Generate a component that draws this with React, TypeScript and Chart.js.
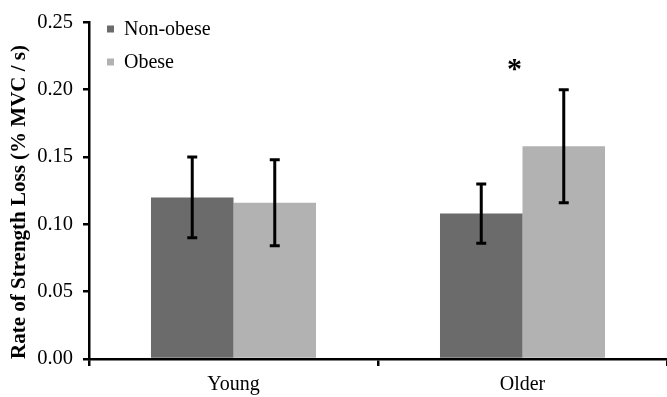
import React, { useEffect, useRef } from "react";
import { Chart, registerables } from "chart.js";

Chart.register(...registerables);

const categories = ["Young", "Older"];
const nonObese = [0.12, 0.108];
const obese = [0.116, 0.158];
const nonObeseErr = [0.03, 0.022];
const obeseErr = [0.032, 0.042];
const yTicks = [0, 0.05, 0.1, 0.15, 0.2, 0.25];
const seriesNames = ["Non-obese", "Obese"];
const yTitle = "Rate of Strength Loss (% MVC / s)";
const sigMark = "*";
const sigValue = 0.215;

const FONT = '"Liberation Serif", "Times New Roman", serif';
const DARK = "#6b6b6b";
const LIGHT = "#b2b2b2";

const errPlugin = {
  id: "errbars",
  afterDatasetsDraw(chart: any) {
    const ctx = chart.ctx;
    const ys = chart.scales.y;
    const errs = [nonObeseErr, obeseErr];
    ctx.save();
    ctx.strokeStyle = "#000";
    ctx.lineWidth = 3;
    chart.data.datasets.forEach((ds: any, di: number) => {
      const meta = chart.getDatasetMeta(di);
      meta.data.forEach((bar: any, i: number) => {
        const v = ds.data[i];
        const e = errs[di][i];
        const top = ys.getPixelForValue(v + e);
        const bot = ys.getPixelForValue(v - e);
        const x = bar.x;
        ctx.beginPath();
        ctx.moveTo(x, top);
        ctx.lineTo(x, bot);
        ctx.moveTo(x - 5, top);
        ctx.lineTo(x + 5, top);
        ctx.moveTo(x - 5, bot);
        ctx.lineTo(x + 5, bot);
        ctx.stroke();
      });
    });
    ctx.restore();
  },
  afterDraw(chart: any) {
    const ctx = chart.ctx;
    const ys = chart.scales.y;
    const xs = chart.scales.x;
    const ca = chart.chartArea;
    ctx.save();
    // y title
    ctx.fillStyle = "#000";
    ctx.font = `bold 21px ${FONT}`;
    ctx.textAlign = "center";
    ctx.textBaseline = "middle";
    ctx.translate(20, 202);
    ctx.rotate(-Math.PI / 2);
    ctx.fillText(yTitle, 0, 0);
    ctx.restore();

    // legend
    ctx.save();
    ctx.font = `20px ${FONT}`;
    ctx.textBaseline = "middle";
    ctx.textAlign = "left";
    const colors = [DARK, LIGHT];
    seriesNames.forEach((n, i) => {
      const y = 29 + i * 33;
      ctx.fillStyle = colors[i];
      ctx.fillRect(ca.left + 18, y - 3.5, 7, 7);
      ctx.fillStyle = "#000";
      ctx.fillText(n, ca.left + 35, y + 1);
    });
    ctx.restore();

    // significance mark
    ctx.save();
    ctx.fillStyle = "#000";
    ctx.font = `bold 30px ${FONT}`;
    ctx.textAlign = "center";
    ctx.textBaseline = "middle";
    ctx.fillText(sigMark, xs.getPixelForValue(1) - 8, ys.getPixelForValue(sigValue) + 1);
    ctx.restore();
  },
};

export default function App() {
  const ref = useRef<HTMLCanvasElement>(null);
  useEffect(() => {
    const chart = new Chart(ref.current!, {
      type: "bar",
      data: {
        labels: categories,
        datasets: [
          { label: seriesNames[0], data: nonObese, backgroundColor: DARK },
          { label: seriesNames[1], data: obese, backgroundColor: LIGHT },
        ],
      },
      options: {
        responsive: false,
        animation: false,
        layout: { padding: { top: 15, right: 0, left: 0, bottom: 0 } },
        plugins: { legend: { display: false }, tooltip: { enabled: false } },
        datasets: { bar: { categoryPercentage: 0.571, barPercentage: 1 } },
        scales: {
          x: {
            grid: {
              offset: true,
              drawOnChartArea: false,
              drawTicks: true,
              tickLength: 7,
              color: "#000",
              lineWidth: 2.5,
            },
            border: { display: true, color: "#000", width: 2.5 },
            ticks: { color: "#000", font: { family: FONT, size: 20 }, padding: 7 },
            afterFit: (s: any) => {
              s.height = 38;
            },
          },
          y: {
            min: 0,
            max: 0.25,
            afterBuildTicks: (s: any) => {
              s.ticks = yTicks.map((v) => ({ value: v }));
            },
            grid: {
              drawOnChartArea: false,
              drawTicks: true,
              tickLength: 6,
              color: "#000",
              lineWidth: 2.5,
            },
            border: { display: true, color: "#000", width: 2.5 },
            ticks: {
              color: "#000",
              font: { family: FONT, size: 20.5 },
              padding: 10,
              callback: (v: any) => Number(v).toFixed(2),
            },
            afterFit: (s: any) => {
              s.width = 89;
            },
          },
        },
      },
      plugins: [errPlugin],
    });
    return () => chart.destroy();
  }, []);
  return (
    <div style={{ position: "absolute", left: 0, top: 0, width: 667, height: 397, background: "#fff" }}>
      <canvas ref={ref} width={667} height={397} />
    </div>
  );
}
